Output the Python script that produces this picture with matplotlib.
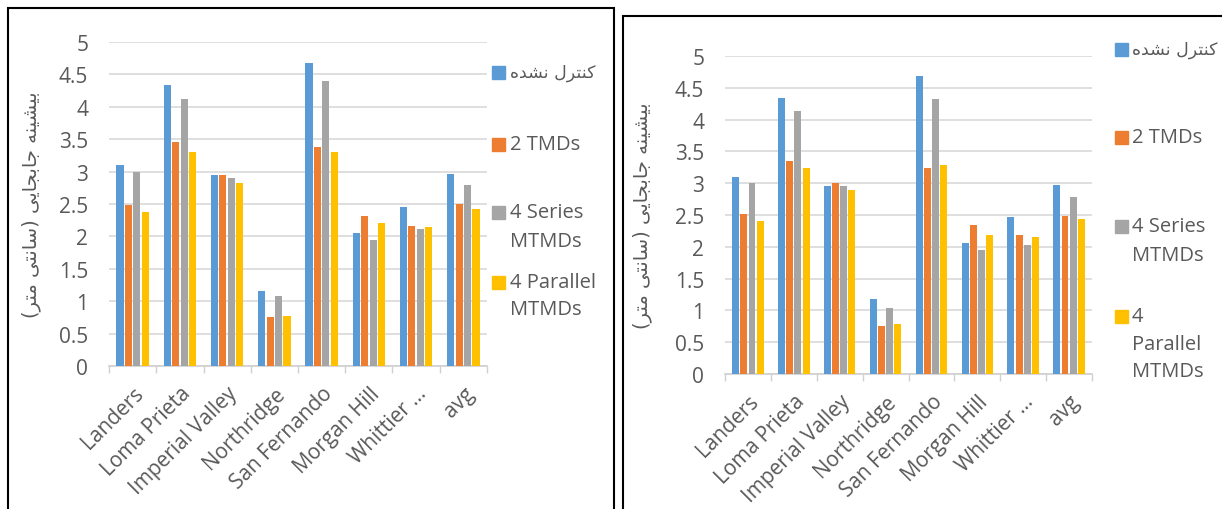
import numpy as np
import matplotlib
matplotlib.use('Agg')
import matplotlib.pyplot as plt
from matplotlib.patches import Rectangle

# Chart data
categories = ['Landers', 'Loma Prieta', 'Imperial Valley', 'Northridge',
              'San Fernando', 'Morgan Hill', 'Whittier …', 'avg']
y_ticks = [0, 0.5, 1, 1.5, 2, 2.5, 3, 3.5, 4, 4.5, 5]

# left chart
uncontrolled_a = [3.10, 4.34, 2.95, 1.16, 4.68, 2.05, 2.46, 2.96]
tmd2_a = [2.48, 3.45, 2.94, 0.75, 3.38, 2.32, 2.16, 2.50]
series_a = [3.00, 4.12, 2.90, 1.08, 4.40, 1.95, 2.11, 2.79]
parallel_a = [2.38, 3.31, 2.82, 0.77, 3.30, 2.21, 2.15, 2.42]

# right chart
uncontrolled_b = [3.10, 4.34, 2.95, 1.18, 4.69, 2.06, 2.47, 2.97]
tmd2_b = [2.51, 3.35, 3.01, 0.76, 3.24, 2.34, 2.18, 2.48]
series_b = [3.01, 4.14, 2.95, 1.04, 4.33, 1.95, 2.03, 2.78]
parallel_b = [2.40, 3.24, 2.90, 0.79, 3.29, 2.19, 2.15, 2.43]

y_label_fa = 'بیشینه جابجایی (سانتی متر)'
legend_fa = 'کنترل نشده'

colors = ['#5B9BD5', '#ED7D31', '#A5A5A5', '#FFC000']
text_color = '#595959'
grid_color = '#d9d9d9'
latin = ['Open Sans', 'DejaVu Sans']

# Persian contextual forms (isolated, final, initial, medial);
# matplotlib does no shaping, so we pick presentation forms by hand
FORMS = {
    'ا': ('\uFE8D', '\uFE8E', None, None),
    'ب': ('\uFE8F', '\uFE90', '\uFE91', '\uFE92'),
    'ت': ('\uFE95', '\uFE96', '\uFE97', '\uFE98'),
    'ج': ('\uFE9D', '\uFE9E', '\uFE9F', '\uFEA0'),
    'د': ('\uFEA9', '\uFEAA', None, None),
    'ر': ('\uFEAD', '\uFEAE', None, None),
    'س': ('\uFEB1', '\uFEB2', '\uFEB3', '\uFEB4'),
    'ش': ('\uFEB5', '\uFEB6', '\uFEB7', '\uFEB8'),
    'ک': ('\uFED9', '\uFEDA', '\uFEDB', '\uFEDC'),
    'ل': ('\uFEDD', '\uFEDE', '\uFEDF', '\uFEE0'),
    'م': ('\uFEE1', '\uFEE2', '\uFEE3', '\uFEE4'),
    'ن': ('\uFEE5', '\uFEE6', '\uFEE7', '\uFEE8'),
    'ه': ('\uFEE9', '\uFEEA', '\uFEEB', '\uFEEC'),
    'ی': ('\uFEEF', '\uFEF0', '\uFEF3', '\uFEF4'),
}


def shape(text):
    out = []
    for i, ch in enumerate(text):
        if ch not in FORMS:
            out.append(ch)
            continue
        prev = text[i - 1] if i > 0 else ''
        nxt = text[i + 1] if i < len(text) - 1 else ''
        join_prev = prev in FORMS and FORMS[prev][2] is not None
        join_next = nxt in FORMS and FORMS[ch][2] is not None
        iso, fin, ini, med = FORMS[ch]
        if join_prev and join_next:
            out.append(med)
        elif join_prev:
            out.append(fin)
        elif join_next:
            out.append(ini)
        else:
            out.append(iso)
    # visual order, mirrored brackets
    return ''.join(reversed(out)).translate(str.maketrans('()', ')('))


W, H = 1222, 510
fig = plt.figure(figsize=(W / 100, H / 100), dpi=100)


def px_axes(x0, x1, y_top, y_bottom):
    return fig.add_axes([x0 / W, 1 - y_bottom / H, (x1 - x0) / W, (y_bottom - y_top) / H])


def draw_chart(ax, series, label_x):
    x = np.arange(len(categories))
    pitch, width = 0.178, 0.15
    for i, (vals, c) in enumerate(zip(series, colors)):
        ax.bar(x + (i - 1.5) * pitch, vals, width, color=c, zorder=3)
    ax.set_xlim(-0.5, len(categories) - 0.5)
    ax.set_ylim(0, 5)
    ax.set_yticks(y_ticks)
    ax.set_yticklabels([f'{v:g}' for v in y_ticks], family=latin, fontsize=15, color=text_color)
    ax.set_xticks(x)
    ax.set_xticklabels(categories, rotation=45, ha='right', va='top',
                       rotation_mode='anchor', family=latin, fontsize=15, color=text_color)
    ax.set_xticks(np.arange(-0.5, len(categories), 1), minor=True)
    ax.tick_params(axis='y', length=0, pad=15)
    ax.tick_params(axis='x', which='major', length=0, pad=12)
    ax.tick_params(axis='x', which='minor', length=5, width=1, color='#d0d0d0')
    ax.grid(axis='y', color=grid_color, linewidth=1.2, zorder=0)
    for s in ['top', 'right', 'left']:
        ax.spines[s].set_visible(False)
    ax.spines['bottom'].set_color('#d0d0d0')
    ax.spines['bottom'].set_linewidth(1.2)
    ax.set_ylabel(shape(y_label_fa), family=['DejaVu Sans'], fontsize=14, color=text_color)
    ax.yaxis.set_label_coords(label_x, 0.5)


def draw_legend(mark_x, text_x, entries):
    # entries: (color, [(line text, y center px), ...])
    for c, lines in entries:
        y0 = lines[0][1]
        fig.patches.append(Rectangle((mark_x / W, 1 - (y0 + 6.5) / H), 13 / W, 13 / H,
                                     transform=fig.transFigure, color=c, figure=fig))
        for txt, y in lines:
            is_fa = any('\uFE70' <= ch <= '\uFEFF' for ch in txt)
            fig.text(text_x / W, 1 - y / H, txt, ha='left', va='center',
                     family=['DejaVu Sans'] if is_fa else latin,
                     fontsize=12.5 if is_fa else 14.5, color=text_color)


# left panel
ax1 = px_axes(109, 487, 43, 367)
draw_chart(ax1, [uncontrolled_a, tmd2_a, series_a, parallel_a], -0.18)
draw_legend(492, 510, [
    (colors[0], [(shape(legend_fa), 73)]),
    (colors[1], [('2 TMDs', 145)]),
    (colors[2], [('4 Series', 213), ('MTMDs', 242)]),
    (colors[3], [('4 Parallel', 283), ('MTMDs', 310)]),
])

# right panel
ax2 = px_axes(725, 1092, 57, 375)
draw_chart(ax2, [uncontrolled_b, tmd2_b, series_b, parallel_b], -0.2)
draw_legend(1115, 1132, [
    (colors[0], [(shape(legend_fa), 50)]),
    (colors[1], [('2 TMDs', 138)]),
    (colors[2], [('4 Series', 227), ('MTMDs', 256)]),
    (colors[3], [('4', 317), ('Parallel', 345), ('MTMDs', 372)]),
])

# panel frames
for x0, y0, x1 in [(8, 9, 614), (623, 17, 1230)]:
    fig.patches.append(Rectangle((x0 / W, -0.05), (x1 - x0) / W, 1.05 - y0 / H,
                                 transform=fig.transFigure, fill=False,
                                 edgecolor='black', linewidth=1.5, figure=fig))

fig.savefig('out.png', dpi=100)
